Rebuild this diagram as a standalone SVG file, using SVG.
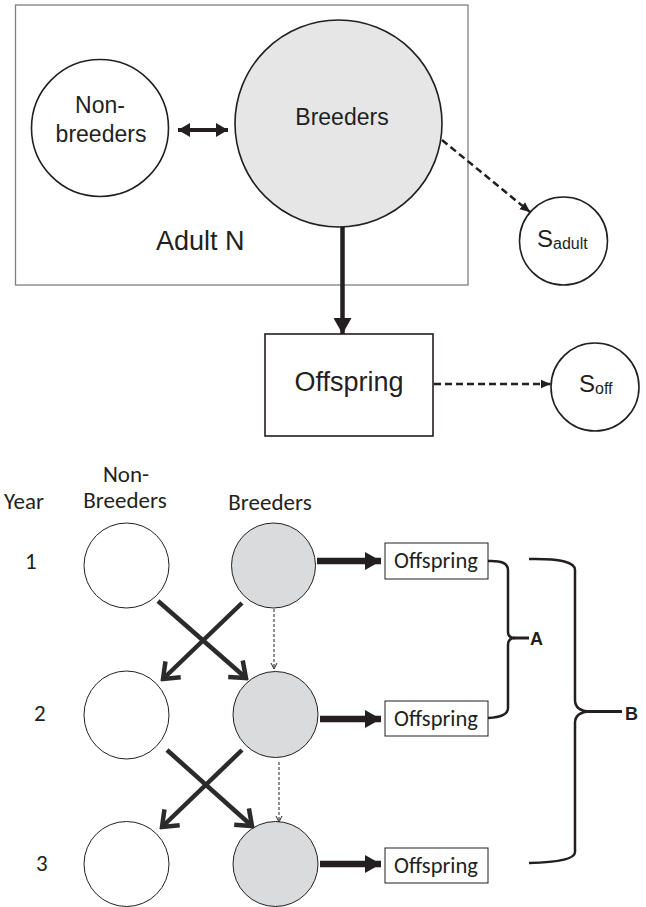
<svg xmlns="http://www.w3.org/2000/svg" width="646" height="907" viewBox="0 0 646 907">
<style>
.t{font-family:"Liberation Sans",Arial,sans-serif;fill:#231f20}
.c{font-family:Carlito,Lato,"Liberation Sans",sans-serif;fill:#231f20}
.node{stroke:#231f20;stroke-width:1.6;fill:#fff}
.thin{stroke:#231f20;stroke-width:1;fill:#fff}
.gtop{fill:#e6e6e7}
.gbot{fill:#dadbdc}
.ln{stroke:#231f20;fill:none}
</style>
<defs>
<marker id="tri" markerUnits="userSpaceOnUse" viewBox="0 0 16 18" markerWidth="16" markerHeight="18" refX="16" refY="9" orient="auto">
<path d="M0,0 L16,9 L0,18 Z" fill="#231f20"/>
</marker>
<marker id="triS" markerUnits="userSpaceOnUse" viewBox="0 0 12 14" markerWidth="12" markerHeight="14" refX="12" refY="7" orient="auto-start-reverse">
<path d="M0,0 L12,7 L0,14 Z" fill="#231f20"/>
</marker>
<marker id="dash" markerUnits="userSpaceOnUse" viewBox="0 0 10 10" markerWidth="10" markerHeight="10" refX="10" refY="5" orient="auto">
<path d="M0,0.5 L10,5 L0,9.5 Z" fill="#231f20"/>
</marker>
<marker id="chev" markerUnits="userSpaceOnUse" viewBox="0 0 20 26" markerWidth="20" markerHeight="26" refX="17" refY="13" orient="auto">
<path d="M3,2 L17,13 L3,24" fill="none" stroke="#2b2b2b" stroke-width="4.5" stroke-linejoin="miter"/>
</marker>
<marker id="vsm" markerUnits="userSpaceOnUse" viewBox="0 0 8 8" markerWidth="8" markerHeight="8" refX="7" refY="4" orient="auto">
<path d="M1,1 L7,4 L1,7" fill="none" stroke="#231f20" stroke-width="1"/>
</marker>
</defs>

<g id="adult-box">
<rect x="15.5" y="5" width="452.5" height="280" fill="none" stroke="#7f7f7f" stroke-width="1.3"/>
<text class="t" x="156" y="250" font-size="27">Adult N</text>
</g>
<g id="top-nonbreeders">
<circle class="node" cx="100" cy="128" r="68.5"/>
<text class="t" x="100" y="113" font-size="23" text-anchor="middle">Non-</text>
<text class="t" x="101" y="142" font-size="23" text-anchor="middle">breeders</text>
</g>
<g id="top-breeders">
<circle class="node gtop" cx="338.5" cy="123.5" r="103.5"/>
<text class="t" x="342" y="125" font-size="23" text-anchor="middle">Breeders</text>
</g>
<g id="s-adult">
<circle class="node" cx="563.5" cy="241" r="44"/>
<text class="t" x="537" y="247" font-size="24">S<tspan font-size="16" dy="2">adult</tspan></text>
</g>
<g id="top-offspring">
<rect x="265" y="334" width="168" height="102" fill="#fff" stroke="#231f20" stroke-width="1.6"/>
<text class="t" x="349" y="391" font-size="27" text-anchor="middle">Offspring</text>
</g>
<g id="s-off">
<circle class="node" cx="595" cy="387" r="44"/>
<text class="t" x="579" y="392" font-size="24">S<tspan font-size="16" dy="2">off</tspan></text>
</g>

<g id="bottom-labels">
<text class="c" x="4" y="509" font-size="23">Year</text>
<text class="c" x="126" y="482" font-size="23" text-anchor="middle">Non-</text>
<text class="c" x="125" y="508" font-size="23" text-anchor="middle">Breeders</text>
<text class="c" x="270" y="510" font-size="23" text-anchor="middle">Breeders</text>
<text class="c" x="25" y="569" font-size="23">1</text>
<text class="c" x="34" y="721" font-size="23">2</text>
<text class="c" x="36" y="871" font-size="23">3</text>
</g>

<g id="nb1"><ellipse class="thin" cx="126.5" cy="565.5" rx="42.5" ry="42.5"/></g>
<g id="b1"><ellipse class="thin gbot" cx="273.5" cy="565.5" rx="42" ry="42.5"/></g>
<g id="nb2"><ellipse class="thin" cx="126.5" cy="715" rx="42.5" ry="44"/></g>
<g id="b2"><ellipse class="thin gbot" cx="275.5" cy="714.5" rx="42.5" ry="43"/></g>
<g id="nb3"><ellipse class="thin" cx="126.5" cy="864" rx="42.5" ry="42.5"/></g>
<g id="b3"><ellipse class="thin gbot" cx="275.5" cy="864" rx="42.5" ry="42.5"/></g>

<g id="off1"><rect x="385" y="543" width="103" height="36" fill="#fff" stroke="#231f20" stroke-width="1"/><text class="c" x="436" y="568" font-size="22.5" text-anchor="middle">Offspring</text></g>
<g id="off2"><rect x="385" y="701" width="103" height="35" fill="#fff" stroke="#231f20" stroke-width="1"/><text class="c" x="436" y="726" font-size="22.5" text-anchor="middle">Offspring</text></g>
<g id="off3"><rect x="385" y="848" width="103" height="35" fill="#fff" stroke="#231f20" stroke-width="1"/><text class="c" x="436" y="873" font-size="22.5" text-anchor="middle">Offspring</text></g>

<g id="brace-a">
<path class="ln" stroke-width="2.5" d="M488,561 Q508,560 508,570 L508,632 Q508,638 515,638 Q508,638 508,645 L508,708 Q508,717 488,718"/>
<path class="ln" stroke-width="3" d="M513,638 L529,638"/>
<text x="530" y="645" font-size="18" font-weight="bold" font-family="Liberation Sans,Arial,sans-serif" fill="#231f20">A</text>
</g>
<g id="brace-b">
<path class="ln" stroke-width="2.5" d="M529,559 Q575,558 575,570 L575,700 Q575,711 590,711.5 Q575,712 575,723 L575,852 Q575,862 529,863"/>
<path class="ln" stroke-width="3" d="M588,711.5 L622,711.5"/>
<text x="625" y="720" font-size="18" font-weight="bold" font-family="Liberation Sans,Arial,sans-serif" fill="#231f20">B</text>
</g>

<g id="connectors">
<line class="ln" x1="178" y1="130" x2="228" y2="130" stroke-width="4" marker-start="url(#triS)" marker-end="url(#triS)"/>
<line class="ln" x1="342.5" y1="227" x2="342.5" y2="334" stroke-width="4.5" marker-end="url(#tri)"/>
<line class="ln" x1="442" y1="140" x2="530" y2="212" stroke-width="2.5" stroke-dasharray="7,4" marker-end="url(#dash)"/>
<line class="ln" x1="434" y1="384" x2="550.5" y2="384" stroke-width="2.5" stroke-dasharray="7,4" marker-end="url(#dash)"/>

<line class="ln" x1="317" y1="561" x2="381" y2="561" stroke-width="6.5" marker-end="url(#tri)"/>
<line class="ln" x1="320" y1="719" x2="381" y2="719" stroke-width="6.5" marker-end="url(#tri)"/>
<line class="ln" x1="320" y1="864" x2="381" y2="864" stroke-width="6.5" marker-end="url(#tri)"/>

<line x1="158" y1="601" x2="246" y2="678" stroke="#2b2b2b" stroke-width="4.5" marker-end="url(#chev)"/>
<line x1="242" y1="603" x2="163" y2="679" stroke="#2b2b2b" stroke-width="4.5" marker-end="url(#chev)"/>
<line x1="167" y1="750" x2="252" y2="826" stroke="#2b2b2b" stroke-width="4.5" marker-end="url(#chev)"/>
<line x1="242" y1="750" x2="162" y2="827" stroke="#2b2b2b" stroke-width="4.5" marker-end="url(#chev)"/>

<line x1="274" y1="609" x2="274" y2="669" stroke="#231f20" stroke-width="1" stroke-dasharray="3,2" marker-end="url(#vsm)"/>
<line x1="279" y1="762" x2="279" y2="822" stroke="#231f20" stroke-width="1" stroke-dasharray="3,2" marker-end="url(#vsm)"/>
</g>
</svg>
